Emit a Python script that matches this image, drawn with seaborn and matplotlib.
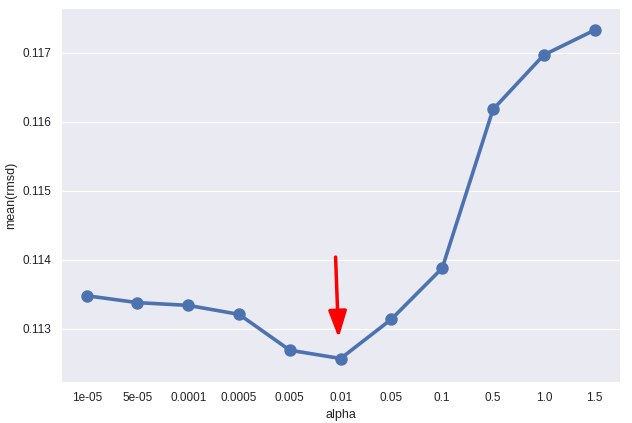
import pandas as pd
import matplotlib
matplotlib.use("Agg")
import matplotlib.pyplot as plt
import seaborn as sns

alphas = ["1e-05", "5e-05", "0.0001", "0.0005", "0.005", "0.01", "0.05", "0.1", "0.5", "1.0", "1.5"]
rmsd = [0.11348, 0.11338, 0.11334, 0.11321, 0.11269, 0.11257, 0.11314, 0.11388, 0.11618, 0.11697, 0.11733]

df = pd.DataFrame({"alpha": alphas, "rmsd": rmsd})

sns.set_style("darkgrid")
plt.rcParams["font.family"] = ["Liberation Sans", "DejaVu Sans"]

fig, ax = plt.subplots(figsize=(6.32, 4.23), dpi=100)
sns.pointplot(data=df, x="alpha", y="rmsd", order=alphas, color="#4C72B0",
              linewidth=2.6, markersize=7, ax=ax)
ax.xaxis.grid(False)
ax.set_ylim(0.11223, 0.11765)
ax.set_yticks([0.113, 0.114, 0.115, 0.116, 0.117])
ax.set_ylabel("mean(rmsd)", fontsize=9, color="#222222")
ax.set_xlabel("alpha", fontsize=9, color="#222222")
ax.tick_params(labelsize=8.5, colors="#222222")

# red arrow pointing at the minimum
ax.annotate("", xy=(4.96, 0.11287), xytext=(4.9, 0.11404),
            arrowprops=dict(arrowstyle="-|>,head_width=0.55,head_length=1.6",
                            color="red", lw=2.5, shrinkA=0, shrinkB=0))

fig.subplots_adjust(left=0.097, right=0.981, top=0.981, bottom=0.097)
fig.savefig("out.png", dpi=100)
